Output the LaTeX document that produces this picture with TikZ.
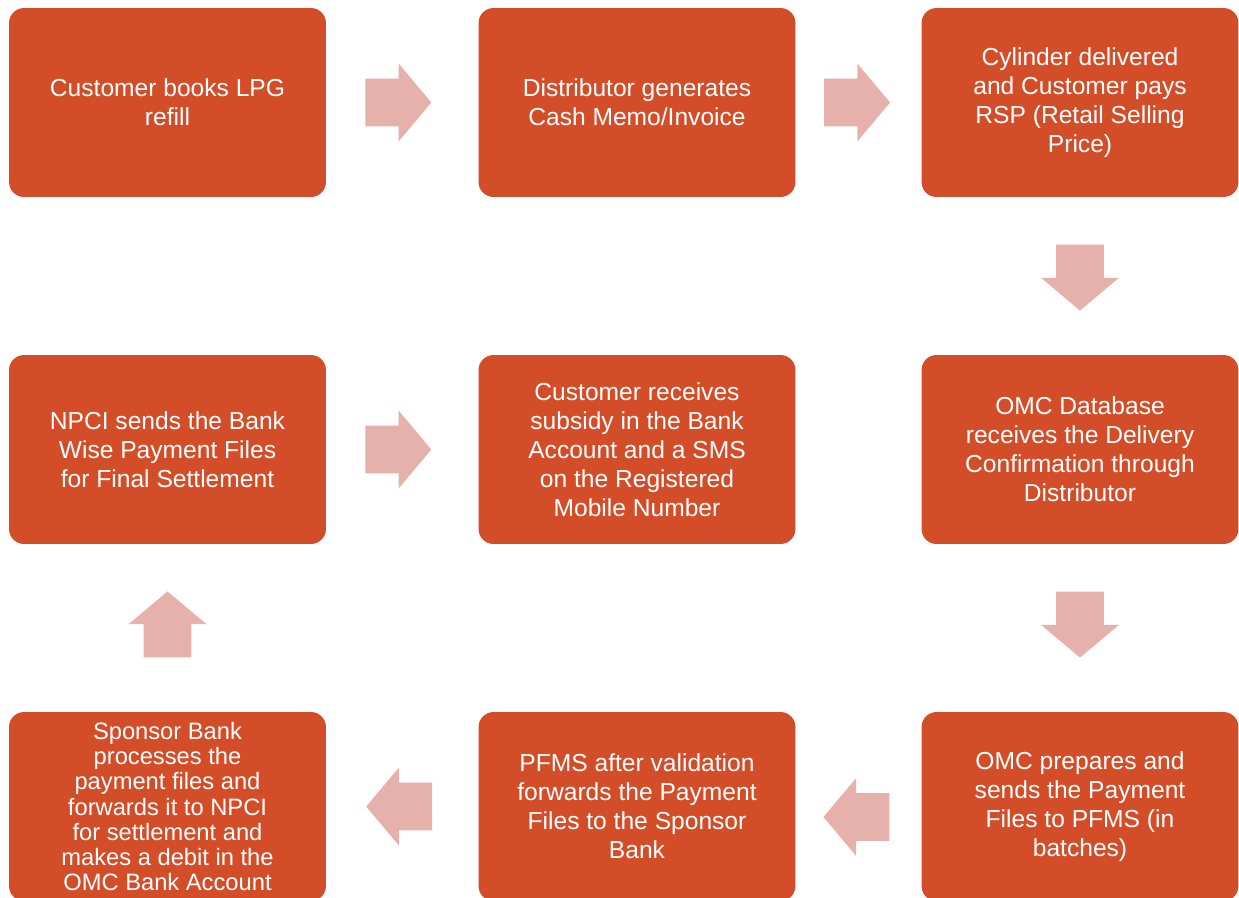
\documentclass[tikz,border=0pt]{standalone}
\usepackage{fontspec}
\setmainfont{Liberation Sans}
\usetikzlibrary{shapes.arrows,calc}
\definecolor{boxred}{HTML}{D44D29}
\definecolor{arrowpink}{HTML}{E6B1AB}

\begin{document}
\begin{tikzpicture}
[x = 0.02cm, y = -0.02cm,
flowbox/.style = {fill=boxred, rounded corners=0.3cm, minimum width=6.34cm, minimum height=3.78cm,
  inner sep=0pt, text=white, align=center, font=\fontsize{14}{16.5}\selectfont},
flowarrow/.style = {single arrow, fill=arrowpink, minimum height=1.32cm, minimum width=1.54cm, anchor=tip,
  single arrow head extend=0.3cm, single arrow tip angle=100, inner xsep=0pt, inner ysep=0.47cm}]
\useasboundingbox (0,0) rectangle (1239,897);

% top row
\node[flowbox] (book) at (167.5,102.5) {Customer books LPG\\refill};
\node[flowbox] (memo) at (637,102.5) {Distributor generates\\Cash Memo/Invoice};
\node[flowbox] (deliver) at (1080,102.5) {Cylinder delivered\\and Customer pays\\RSP (Retail Selling\\Price)};

% middle row
\node[flowbox] (npci) at (167.5,449.5) {NPCI sends the Bank\\Wise Payment Files\\for Final Settlement};
\node[flowbox] (credit) at (637,449.5) {Customer receives\\subsidy in the Bank\\Account and a SMS\\on the Registered\\Mobile Number};
\node[flowbox] (confirm) at (1080,449.5) {OMC Database\\receives the Delivery\\Confirmation through\\Distributor};

% bottom row
\node[flowbox, font=\fontsize{13.5}{14.4}\selectfont] (sponsor) at (167.5,806.5)
  {Sponsor Bank\\processes the\\payment files and\\forwards it to NPCI\\for settlement and\\makes a debit in the\\OMC Bank Account};
\node[flowbox] (pfms) at (637,806.5) {PFMS after validation\\forwards the Payment\\Files to the Sponsor\\Bank};
\node[flowbox] (prepare) at (1080,806.5) {OMC prepares and\\sends the Payment\\Files to PFMS (in\\batches)};

% arrows (placed by their tips)
\node[flowarrow] (a1) at ($(book.east)!.5!(memo.west)+(29.5,0)$) {};
\node[flowarrow] (a2) at ($(memo.east)!.5!(deliver.west)+(32,0)$) {};
\node[flowarrow, rotate=270] (a3) at ($(deliver.south)!.5!(confirm.north)+(0,35)$) {};
\node[flowarrow, rotate=270] (a4) at ($(confirm.south)!.5!(prepare.north)+(0,30)$) {};
\node[flowarrow, rotate=180] (a5) at ($(prepare.west)!.5!(pfms.east)+(-35.5,10.5)$) {};
\node[flowarrow, rotate=180] (a6) at ($(pfms.west)!.5!(sponsor.east)+(-36.5,0)$) {};
\node[flowarrow, rotate=90] (a7) at ($(sponsor.north)!.5!(npci.south)+(0,-37)$) {};
\node[flowarrow] (a8) at ($(npci.east)!.5!(credit.west)+(29.5,0)$) {};

\end{tikzpicture}
\end{document}
